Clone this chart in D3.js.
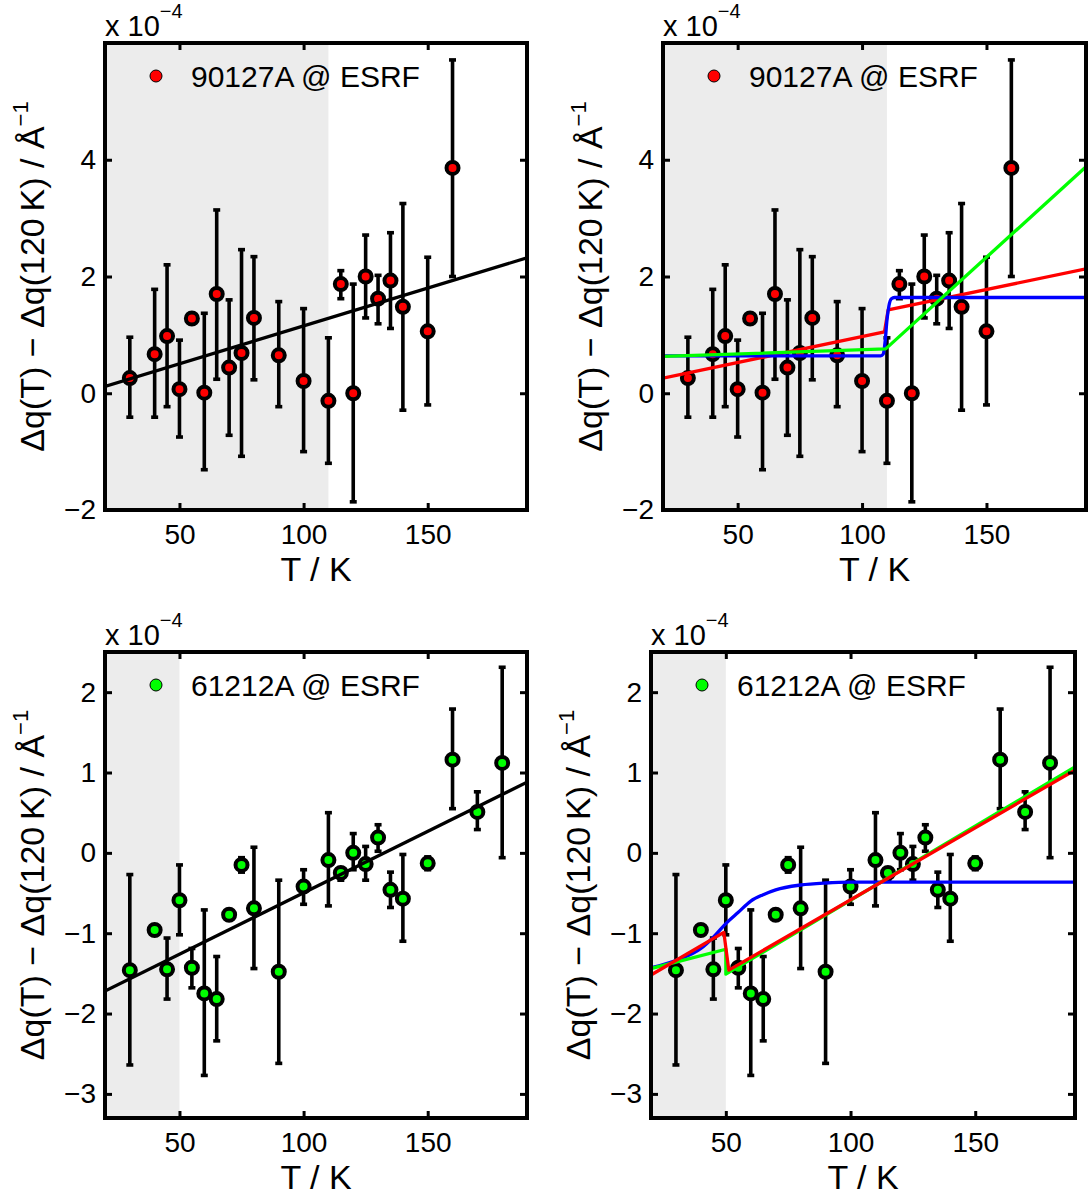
<!DOCTYPE html>
<html lang="en"><head><meta charset="utf-8">
<title>dq(T) vs T</title>
<script src="https://cdn.jsdelivr.net/npm/d3@7/dist/d3.min.js"></script>
<style>
  body { margin: 0; background: #fff; }
  text { font-family: "Liberation Sans", Arial, Helvetica, sans-serif; fill: #000; }
</style>
</head>
<body>
<script>
var width = 1089;
var height = 1197;

// sample 90127A @ ESRF (top row), units of 1e-4 1/A
var tempA = [30, 40, 45, 50, 55, 60, 65, 70, 75, 80, 90, 100, 110, 115, 120, 125, 130, 135, 140, 150, 160];
var dqA   = [0.26, 0.67, 0.98, 0.07, 1.28, 0.01, 1.70, 0.44, 0.69, 1.29, 0.65, 0.21, -0.13, 1.87, 0.00, 2.00, 1.62, 1.93, 1.48, 1.06, 3.86];
var hiA   = [0.96, 1.78, 2.20, 0.91, 1.28, 1.37, 3.14, 1.60, 2.46, 2.34, 1.57, 1.45, 0.95, 2.10, 1.87, 2.71, 2.02, 2.75, 3.25, 2.33, 5.71];
var loA   = [-0.41, -0.41, -0.23, -0.75, 1.28, -1.31, 0.24, -0.72, -1.08, 0.23, -0.23, -1.00, -1.20, 1.62, -1.86, 1.29, 1.19, 1.11, -0.29, -0.20, 2.00];

// sample 61212A @ ESRF (bottom row)
var tempB = [30, 40, 45, 50, 55, 60, 65, 70, 75, 80, 90, 100, 110, 115, 120, 125, 130, 135, 140, 150, 160, 170, 180];
var dqB   = [-1.46, -0.96, -1.45, -0.59, -1.43, -1.75, -1.82, -0.77, -0.15, -0.69, -1.48, -0.42, -0.09, -0.25, 0.00, -0.14, 0.19, -0.46, -0.57, -0.13, 1.16, 0.51, 1.12];
var hiB   = [-0.27, -0.96, -1.06, -0.15, -1.19, -0.71, -1.29, -0.77, -0.06, 0.07, -0.34, -0.21, 0.50, -0.20, 0.24, 0.08, 0.35, -0.24, -0.02, -0.05, 1.79, 0.76, 2.31];
var loB   = [-2.64, -0.96, -1.82, -1.02, -1.68, -2.77, -2.34, -0.77, -0.24, -1.44, -2.62, -0.64, -0.66, -0.34, -0.21, -0.34, 0.02, -0.68, -1.10, -0.21, 0.55, 0.29, -0.06];

// fitted curves, [T, dq] knots
var linFitA   = [[20, 0.115], [190, 2.32]];
var redFitA   = [[20, 0.26], [109, 1.05], [110.5, 1.43], [190, 2.13]];
var blueFitA  = [[20, 0.64], [107.5, 0.64], [108.5, 0.67], [109.3, 0.90], [110, 1.25], [110.8, 1.50], [111.8, 1.62], [113, 1.64], [190, 1.64]];
var greenFitA = [[20, 0.63], [109.5, 0.76], [190, 3.88]];

var linFitB   = [[20, -1.72], [190, 0.88]];
var blueFitB  = [[20, -1.43], [30, -1.34], [40, -1.19], [45, -1.05], [50, -0.88], [55, -0.74], [60, -0.60], [65, -0.52], [70, -0.46], [80, -0.40], [90, -0.375], [100, -0.365], [190, -0.365]];
var redFitB   = [[20, -1.52], [49.2, -0.99], [51.2, -1.46], [190, 1.03]];
var greenFitB = [[20, -1.44], [50, -1.20], [50.01, -1.51], [190, 1.07]];

var xTicks = [50, 100, 150];
var yTicksA = [-2, 0, 2, 4];
var yTicksB = [-3, -2, -1, 0, 1, 2];

var font = '"Liberation Sans", Arial, Helvetica, sans-serif';

var svg = d3.select("body").append("svg")
            .attr("width", width)
            .attr("height", height);

var panels = [
  { id: "a", left: 105, right: 527, top: 43, bottom: 510, ylim: [-2, 6], yticks: yTicksA, shade: 110,
    T: tempA, v: dqA, hi: hiA, lo: loA, fill: "#ff0000", label: "90127A @ ESRF",
    fits: [{ d: linFitA, c: "#000" }] },
  { id: "b", left: 663, right: 1086, top: 43, bottom: 510, ylim: [-2, 6], yticks: yTicksA, shade: 110,
    T: tempA, v: dqA, hi: hiA, lo: loA, fill: "#ff0000", label: "90127A @ ESRF",
    fits: [{ d: redFitA, c: "#ff0000" }, { d: blueFitA, c: "#0000ff", smooth: true }, { d: greenFitA, c: "#00ff00" }] },
  { id: "c", left: 105, right: 527, top: 652, bottom: 1118, ylim: [-3.3, 2.5], yticks: yTicksB, shade: 50,
    T: tempB, v: dqB, hi: hiB, lo: loB, fill: "#00ff00", label: "61212A @ ESRF",
    fits: [{ d: linFitB, c: "#000" }] },
  { id: "d", left: 651, right: 1075, top: 652, bottom: 1118, ylim: [-3.3, 2.5], yticks: yTicksB, shade: 50,
    T: tempB, v: dqB, hi: hiB, lo: loB, fill: "#00ff00", label: "61212A @ ESRF",
    fits: [{ d: blueFitB, c: "#0000ff", smooth: true }, { d: greenFitB, c: "#00ff00" }, { d: redFitB, c: "#ff0000" }] }
];

function fmt(d) {
  return d < 0 ? "\u2212" + Math.abs(d) : String(d);
}

panels.forEach(function(p) {
  var x = d3.scaleLinear().domain([20, 190]).range([p.left, p.right]);
  var y = d3.scaleLinear().domain(p.ylim).range([p.bottom, p.top]);
  var g = svg.append("g").attr("class", "panel-" + p.id);

  svg.append("clipPath").attr("id", "clip-" + p.id)
     .append("rect")
     .attr("x", p.left).attr("y", p.top)
     .attr("width", p.right - p.left).attr("height", p.bottom - p.top);

  // grey band below transition
  g.append("rect")
    .attr("x", x(20))
    .attr("y", p.top)
    .attr("width", x(p.shade) - x(20))
    .attr("height", p.bottom - p.top)
    .attr("fill", "#ececec");

  var pts = p.T.map(function(t, i) { return { t: t, v: p.v[i], hi: p.hi[i], lo: p.lo[i] }; });

  // error bars
  var eb = g.append("g").attr("clip-path", "url(#clip-" + p.id + ")")
            .attr("stroke", "#000").attr("stroke-width", 3.6);
  eb.selectAll("line.bar").data(pts).enter().append("line")
    .attr("class", "bar")
    .attr("x1", function(d) { return x(d.t); })
    .attr("x2", function(d) { return x(d.t); })
    .attr("y1", function(d) { return y(d.hi); })
    .attr("y2", function(d) { return y(d.lo); });
  eb.selectAll("line.capHi").data(pts).enter().append("line")
    .attr("class", "capHi")
    .attr("x1", function(d) { return x(d.t) - 3.5; })
    .attr("x2", function(d) { return x(d.t) + 3.5; })
    .attr("y1", function(d) { return y(d.hi); })
    .attr("y2", function(d) { return y(d.hi); });
  eb.selectAll("line.capLo").data(pts).enter().append("line")
    .attr("class", "capLo")
    .attr("x1", function(d) { return x(d.t) - 3.5; })
    .attr("x2", function(d) { return x(d.t) + 3.5; })
    .attr("y1", function(d) { return y(d.lo); })
    .attr("y2", function(d) { return y(d.lo); });

  // markers
  g.append("g").selectAll("circle").data(pts).enter().append("circle")
    .attr("cx", function(d) { return x(d.t); })
    .attr("cy", function(d) { return y(d.v); })
    .attr("r", 6)
    .attr("fill", p.fill)
    .attr("stroke", "#000")
    .attr("stroke-width", 4);

  // fit curves
  var fg = g.append("g").attr("clip-path", "url(#clip-" + p.id + ")");
  p.fits.forEach(function(f) {
    var line = d3.line()
      .x(function(d) { return x(d[0]); })
      .y(function(d) { return y(d[1]); })
      .curve(f.smooth ? d3.curveMonotoneX : d3.curveLinear);
    fg.append("path")
      .attr("d", line(f.d))
      .attr("fill", "none")
      .attr("stroke", f.c)
      .attr("stroke-width", 3.3)
      .attr("stroke-linejoin", "round");
  });

  // axes, ticks pointing inward on all four sides
  var axB = d3.axisBottom(x).tickValues(xTicks).tickSize(-7).tickPadding(14).tickFormat(fmt);
  var axT = d3.axisTop(x).tickValues(xTicks).tickSize(-7).tickFormat("");
  var axL = d3.axisLeft(y).tickValues(p.yticks).tickSize(-7).tickPadding(9).tickFormat(fmt);
  var axR = d3.axisRight(y).tickValues(p.yticks).tickSize(-7).tickFormat("");

  [[axB, "translate(0," + p.bottom + ")"], [axT, "translate(0," + p.top + ")"],
   [axL, "translate(" + p.left + ",0)"], [axR, "translate(" + p.right + ",0)"]].forEach(function(a) {
    var ag = g.append("g").attr("transform", a[1]).call(a[0]);
    ag.select(".domain").remove();
    ag.selectAll(".tick line").attr("stroke", "#000").attr("stroke-width", 3);
    ag.selectAll(".tick text").attr("font-size", 28).attr("font-family", font).attr("fill", "#000");
  });

  // box
  g.append("rect")
    .attr("x", p.left).attr("y", p.top)
    .attr("width", p.right - p.left).attr("height", p.bottom - p.top)
    .attr("fill", "none").attr("stroke", "#000").attr("stroke-width", 4);

  // exponent label
  var ex = g.append("text").attr("x", p.left).attr("y", p.top - 7).attr("font-size", 29);
  ex.append("tspan").text("x 10");
  ex.append("tspan").attr("font-size", 20).attr("dy", -18).text("\u22124");

  // x label
  g.append("text")
    .attr("x", (p.left + p.right) / 2)
    .attr("y", p.bottom + 71)
    .attr("text-anchor", "middle")
    .attr("font-size", 34)
    .text("T / K");

  // y label
  var yl = g.append("text")
    .attr("transform", "translate(" + (p.left - 61) + "," + ((p.top + p.bottom) / 2) + ") rotate(-90)")
    .attr("text-anchor", "middle")
    .attr("font-size", 34);
  yl.append("tspan").text("\u0394q(T) \u2212 \u0394q(120\u2009K) / \u00c5");
  yl.append("tspan").attr("font-size", 22).attr("dy", -16).text("\u22121");

  // legend
  g.append("circle")
    .attr("cx", p.left + 51).attr("cy", p.top + 33)
    .attr("r", 6).attr("fill", p.fill).attr("stroke", "#000").attr("stroke-width", 1);
  g.append("text")
    .attr("x", p.left + 86).attr("y", p.top + 44)
    .attr("font-size", 30)
    .text(p.label);
});
</script>
</body></html>
